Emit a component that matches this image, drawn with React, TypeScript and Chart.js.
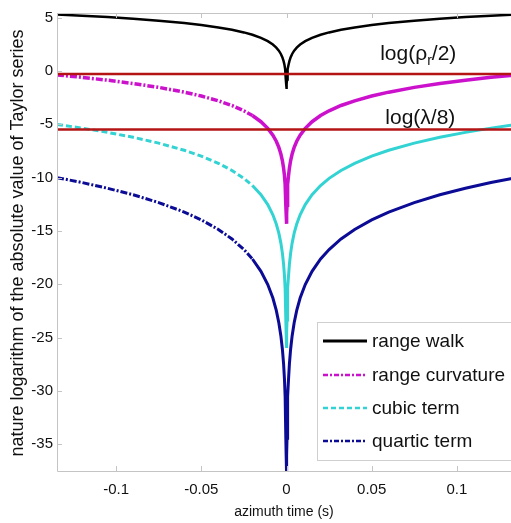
import React, { useEffect, useRef } from "react";
import { Chart, registerables } from "chart.js";

Chart.register(...registerables);

// azimuth time samples (s)
const TIME = [-0.1347, -0.12, -0.105, -0.09, -0.075, -0.06, -0.05, -0.04, -0.032, -0.025, -0.02, -0.015, -0.011, -0.008, -0.006, -0.0045, -0.0033, -0.0024, -0.0017, -0.0012, -0.0008, -0.0005, -0.0003, -0.0002, -0.000125, 0.000125, 0.0002, 0.0003, 0.0005, 0.0008, 0.0012, 0.0017, 0.0024, 0.0033, 0.0045, 0.006, 0.008, 0.011, 0.015, 0.02, 0.025, 0.032, 0.04, 0.05, 0.06, 0.075, 0.09, 0.105, 0.12, 0.1347];

const RANGE_WALK = [5.30, 5.18, 5.05, 4.89, 4.71, 4.49, 4.30, 4.08, 3.86, 3.61, 3.39, 3.10, 2.79, 2.47, 2.18, 1.90, 1.59, 1.27, 0.92, 0.58, 0.17, -0.30, -0.81, -1.22, -1.69, -1.69, -1.22, -0.81, -0.30, 0.17, 0.58, 0.92, 1.27, 1.59, 1.90, 2.18, 2.47, 2.79, 3.10, 3.39, 3.61, 3.86, 4.08, 4.30, 4.49, 4.71, 4.89, 5.05, 5.18, 5.30];

const RANGE_CURVATURE = [-0.37, -0.60, -0.87, -1.18, -1.54, -1.99, -2.35, -2.80, -3.24, -3.74, -4.18, -4.76, -5.38, -6.02, -6.59, -7.17, -7.79, -8.42, -9.11, -9.81, -10.62, -11.56, -12.58, -13.39, -14.33, -14.33, -13.39, -12.58, -11.56, -10.62, -9.81, -9.11, -8.42, -7.79, -7.17, -6.59, -6.02, -5.38, -4.76, -4.18, -3.74, -3.24, -2.80, -2.35, -1.99, -1.54, -1.18, -0.87, -0.60, -0.37];

const CUBIC_TERM = [-5.02, -5.36, -5.76, -6.22, -6.77, -7.44, -7.99, -8.66, -9.33, -10.07, -10.74, -11.60, -12.53, -13.48, -14.35, -15.21, -16.14, -17.10, -18.13, -19.18, -20.39, -21.80, -23.34, -24.55, -25.96, -25.96, -24.55, -23.34, -21.80, -20.39, -19.18, -18.13, -17.10, -16.14, -15.21, -14.35, -13.48, -12.53, -11.60, -10.74, -10.07, -9.33, -8.66, -7.99, -7.44, -6.77, -6.22, -5.76, -5.36, -5.02];

const QUARTIC_TERM = [-10.00, -10.46, -11.00, -11.61, -12.34, -13.23, -13.96, -14.86, -15.75, -16.74, -17.63, -18.78, -20.02, -21.29, -22.44, -23.60, -24.84, -26.11, -27.49, -28.88, -30.50, -32.38, -34.43, -36.05, -37.93, -37.93, -36.05, -34.43, -32.38, -30.50, -28.88, -27.49, -26.11, -24.84, -23.60, -22.44, -21.29, -20.02, -18.78, -17.63, -16.74, -15.75, -14.86, -13.96, -13.23, -12.34, -11.61, -11.00, -10.46, -10.00];

// threshold levels
const RHO_LEVEL = -0.28;
const LAMBDA_LEVEL = -5.48;
const LEVEL_SPAN = [-0.1347, 0.1347];

const X_TICKS = [-0.1, -0.05, 0, 0.05, 0.1];
const Y_TICKS = [5, 0, -5, -10, -15, -20, -25, -30, -35];
const X_RANGE = [-0.1347, 0.1347];
const Y_RANGE = [-37.5, 5.43];

const SERIES_LABELS = ["range walk", "range curvature", "cubic term", "quartic term"];
const COLORS = ["#000000", "#cc11cc", "#33d3d3", "#0b0b95"];
const RED = "#b41414";
const AXIS_COLOR = "#c4c4c4";
const FONT = "'Liberation Sans', Arial, sans-serif";

const LEGEND_DASH = [[], [5, 2, 2, 2], [5, 3], [5, 2, 2, 2]];
const LINE_DASH = [[], [7, 2, 2, 2], [6, 3], [7, 2, 2, 2]];
const LINE_WIDTHS = [2.5, 3.5, 3, 3];

const pts = (ys: number[]) => TIME.map((t, i) => ({ x: t, y: ys[i] }));

const overlay = {
  id: "overlay",
  afterDatasetsDraw(chart: any) {
    const { ctx, chartArea: a, scales } = chart;
    const x = scales.x;
    const y = scales.y;
    ctx.save();
    // box lines
    ctx.strokeStyle = AXIS_COLOR;
    ctx.lineWidth = 1;
    ctx.setLineDash([]);
    ctx.beginPath();
    ctx.moveTo(a.left + 0.5, a.top);
    ctx.lineTo(a.left + 0.5, a.bottom + 0.5);
    ctx.lineTo(a.right, a.bottom + 0.5);
    ctx.moveTo(a.left, a.top + 0.5);
    ctx.lineTo(a.right, a.top + 0.5);
    ctx.stroke();
    // inner ticks
    ctx.beginPath();
    X_TICKS.forEach((v) => {
      const px = Math.round(x.getPixelForValue(v)) + 0.5;
      ctx.moveTo(px, a.bottom);
      ctx.lineTo(px, a.bottom - 5);
      ctx.moveTo(px, a.top);
      ctx.lineTo(px, a.top + 5);
    });
    Y_TICKS.forEach((v) => {
      const py = Math.round(y.getPixelForValue(v)) + 0.5;
      ctx.moveTo(a.left, py);
      ctx.lineTo(a.left + 5, py);
    });
    ctx.stroke();

    // level labels
    ctx.fillStyle = "#111";
    ctx.textBaseline = "alphabetic";
    ctx.textAlign = "left";
    const lx1 = x.getPixelForValue(0.055);
    const ly1 = y.getPixelForValue(1.0);
    ctx.font = `21px ${FONT}`;
    let cx = lx1;
    ctx.fillText("log(ρ", cx, ly1);
    cx += ctx.measureText("log(ρ").width;
    ctx.font = `14px ${FONT}`;
    ctx.fillText("r", cx, ly1 + 5);
    cx += ctx.measureText("r").width;
    ctx.font = `21px ${FONT}`;
    ctx.fillText("/2)", cx, ly1);
    const lx2 = x.getPixelForValue(0.058);
    const ly2 = y.getPixelForValue(-5.0);
    ctx.fillText("log(λ/8)", lx2, ly2);

    // legend
    const bx = 317;
    const by = 322;
    ctx.fillStyle = "#ffffff";
    ctx.fillRect(bx, by, 220, 138);
    ctx.strokeStyle = "#cfcfcf";
    ctx.lineWidth = 1;
    ctx.strokeRect(bx + 0.5, by + 0.5, 220, 138);
    const rows = [341, 375, 408, 441];
    SERIES_LABELS.forEach((lab, i) => {
      ctx.strokeStyle = COLORS[i];
      ctx.lineWidth = i === 0 ? 3 : 2.5;
      ctx.setLineDash(LEGEND_DASH[i]);
      ctx.beginPath();
      ctx.moveTo(323, rows[i]);
      ctx.lineTo(367, rows[i]);
      ctx.stroke();
      ctx.setLineDash([]);
      ctx.fillStyle = "#111";
      ctx.font = `19px ${FONT}`;
      ctx.textBaseline = "middle";
      ctx.fillText(lab, 372, rows[i] + 1);
    });

    // axis titles
    ctx.fillStyle = "#111";
    ctx.font = `14px ${FONT}`;
    ctx.textAlign = "center";
    ctx.textBaseline = "middle";
    ctx.fillText("azimuth time (s)", 284, 512);
    ctx.save();
    ctx.translate(18, 243);
    ctx.rotate(-Math.PI / 2);
    ctx.font = `18px ${FONT}`;
    ctx.fillText("nature logarithm of the absolute value of Taylor series", 0, 0);
    ctx.restore();
    ctx.restore();
  },
};

export default function App() {
  const ref = useRef<HTMLCanvasElement>(null);
  useEffect(() => {
    if (!ref.current) return;
    const seriesData = [RANGE_WALK, RANGE_CURVATURE, CUBIC_TERM, QUARTIC_TERM];
    const series = seriesData.map((ys, i) => ({
      label: SERIES_LABELS[i],
      data: pts(ys),
      borderColor: COLORS[i],
      borderWidth: LINE_WIDTHS[i],
      pointRadius: 0,
      fill: false,
      tension: 0,
      order: i + 1,
      borderDash: [],
      segment: {
        borderDash: (c: any) => (c.p0.parsed.x < -0.02 ? LINE_DASH[i] : []),
      },
    }));
    const levels = [RHO_LEVEL, LAMBDA_LEVEL].map((lv, i) => ({
      label: i === 0 ? "log(ρr/2)" : "log(λ/8)",
      data: LEVEL_SPAN.map((t) => ({ x: t, y: lv })),
      borderColor: RED,
      borderWidth: 2.5,
      pointRadius: 0,
      fill: false,
      order: 0,
    }));
    const chart = new Chart(ref.current, {
      type: "line",
      data: { datasets: [...levels, ...series] as any },
      options: {
        animation: false,
        responsive: false,
        layout: { padding: { top: 12, right: 0, left: 0, bottom: 0 } },
        plugins: { legend: { display: false }, tooltip: { enabled: false } },
        scales: {
          x: {
            type: "linear",
            min: X_RANGE[0],
            max: X_RANGE[1],
            grid: { display: false, drawTicks: false },
            border: { display: false },
            afterBuildTicks: (s: any) => {
              s.ticks = X_TICKS.map((v) => ({ value: v }));
            },
            afterFit: (s: any) => {
              s.height = 52;
            },
            ticks: {
              padding: 10,
              color: "#111",
              maxRotation: 0,
              autoSkip: false,
              font: { family: FONT, size: 15 },
              callback: (v: any) => String(v),
            },
          },
          y: {
            type: "linear",
            min: Y_RANGE[0],
            max: Y_RANGE[1],
            grid: { display: false, drawTicks: false },
            border: { display: false },
            afterBuildTicks: (s: any) => {
              s.ticks = Y_TICKS.map((v) => ({ value: v }));
            },
            afterFit: (s: any) => {
              s.width = 57;
            },
            ticks: {
              padding: 4,
              color: "#111",
              autoSkip: false,
              font: { family: FONT, size: 15 },
              callback: (v: any) => String(v),
            },
          },
        },
      },
      plugins: [overlay],
    });
    return () => chart.destroy();
  }, []);
  return (
    <div style={{ position: "absolute", left: 0, top: 0, width: 511, height: 523, overflow: "hidden", background: "#fff" }}>
      <canvas ref={ref} width={516} height={523} style={{ width: 516, height: 523 }} />
    </div>
  );
}
